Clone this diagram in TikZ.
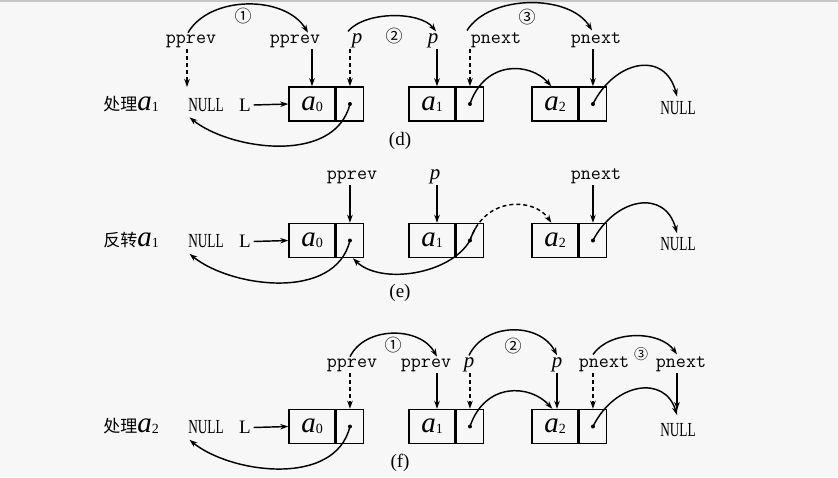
\documentclass[tikz,border=0pt]{standalone}
\usepackage{fontspec}
\setmainfont{Liberation Serif}
\newfontfamily\cjkf{Noto Sans CJK SC}
\usetikzlibrary{arrows.meta}
\newcommand\va[1]{{\fontsize{29}{29}\selectfont\itshape a}\raisebox{-1pt}{\fontsize{14}{14}\selectfont #1}}
\newcommand\nulltxt{\fontsize{19}{19}\selectfont\scalebox{0.7}[1.05]{NULL}}
\tikzset{
  datac/.style={draw,rectangle,minimum width=46pt,minimum height=34pt,inner sep=0pt},
  ptrc/.style={draw,rectangle,minimum width=27pt,minimum height=34pt,inner sep=0pt},
  lbl/.style={font=\ttfamily\fontsize{19.5}{19.5}\selectfont,inner sep=1pt,anchor=base},
  plbl/.style={font=\fontsize{21}{21}\selectfont\itshape,inner sep=1pt,anchor=base},
  circ/.style={font=\cjkf\fontsize{17}{17}\selectfont,inner sep=0pt},
  ptr/.style={-{Stealth[length=8pt,width=5.5pt]}},
  dptr/.style={ptr,dash pattern=on 4pt off 3pt},
  nul/.style={inner sep=0pt},
  captxt/.style={font=\fontsize{19}{19}\selectfont,inner sep=0pt},
  lefttxt/.style={inner sep=0pt},
}
\newcommand\mkrow[4]{%
  \node[datac] (d0#1) at (312,#2) {\va{0}};
  \node[ptrc,anchor=west] (p0#1) at (d0#1.east) {};
  \node[datac] (d1#1) at (432,#2) {\va{1}};
  \node[ptrc,anchor=west] (p1#1) at (d1#1.east) {};
  \node[datac] (d2#1) at (555,#2) {\va{2}};
  \node[ptrc,anchor=west] (p2#1) at (d2#1.east) {};
  \fill (p0#1.center) circle (2pt) (p1#1.center) circle (2pt) (p2#1.center) circle (2pt);
  \node[nul] (nl#1) at (206,#2+1) {\nulltxt};
  \node[nul] (nr#1) at (678,#2+4) {\nulltxt};
  \node[inner sep=0pt] (L#1) at (245,#2+1) {\fontsize{19}{19}\selectfont L};
  \draw[ptr] ([xshift=2pt]L#1.east) -- (d0#1.west);
  \node[lefttxt] (lt#1) at (131,#2) {{\cjkf\fontsize{17}{17}\selectfont #3}\va{#4}};
}
\begin{document}
\begin{tikzpicture}[x=1pt,y=-1pt,line width=1.45pt]
\fill[white!97!black] (0,0) rectangle (838,477);
\fill[black!22] (0,0) rectangle (838,2);
\useasboundingbox (0,0) rectangle (838,477);

% ---------------- (d) ----------------
\mkrow{d}{104}{处理}{1}
\node[lbl] (ppAd) at (191,43) {pprev};
\node[lbl] (ppBd) at (295,43) {pprev};
\node[plbl] (pAd) at (357,43) {p};
\node[plbl] (pBd) at (433,43) {p};
\node[lbl] (pnAd) at (496,43) {pnext};
\node[lbl] (pnBd) at (596,43) {pnext};
\node[circ] (c1d) at (243,16) {①};
\node[circ] (c2d) at (394,36) {②};
\node[circ] (c3d) at (527,17) {③};
\coordinate (ndd) at (187,87);
\coordinate (a1d) at ([xshift=5pt]d1d.north);
\draw[dptr] (ppAd.south -| ndd) -- (ndd);
\draw[ptr] (ppBd.south -| d0d.north) -- (d0d.north);
\draw[dptr] (pAd.south -| p0d.north) -- (p0d.north);
\draw[ptr] (pBd.south -| a1d) -- (a1d);
\draw[dptr] (pnAd.south -| p1d.north) -- (p1d.north);
\draw[ptr] (pnBd.south -| p2d.north) -- (p2d.north);
\draw[ptr] ([xshift=-3pt]ppAd.north) .. controls (210,-5) and (285,-5) .. ([xshift=13pt]ppBd.north);
\draw[ptr] ([xshift=-9pt]pAd.north) .. controls (365,11) and (420,11) .. ([xshift=3pt]pBd.north);
\draw[ptr] ([xshift=-29pt]pnAd.north) .. controls (490,-6) and (570,-6) .. ([xshift=-4pt]pnBd.north);
\draw[ptr] (p0d.center) .. controls (335,165) and (230,150) .. ([shift={(2,5)}]nld.south west);
\draw[ptr] (p1d.center) .. controls (485,60) and (530,62) .. ([xshift=20pt]d2d.north west);
\draw[ptr] (p2d.center) .. controls (615,60) and (665,50) .. ([shift={(-1,-4)}]nrd.north);
\node[captxt] (capd) at (400,141) {(d)};

% ---------------- (e) ----------------
\mkrow{e}{240.5}{反转}{1}
\node[lbl] (ppe) at (352,179) {pprev};
\node[plbl] (pe) at (435,179) {p};
\node[lbl] (pne) at (596,179) {pnext};
\coordinate (a1e) at ([xshift=5pt]d1e.north);
\draw[ptr] (ppe.south -| p0e.north) -- (p0e.north);
\draw[ptr] (pe.south -| a1e) -- (a1e);
\draw[ptr] (pne.south -| p2e.north) -- (p2e.north);
\draw[ptr] (p0e.center) .. controls (335,302) and (230,287) .. ([shift={(2,5)}]nle.south west);
\draw[ptr] (p1e.center) .. controls (450,275) and (380,285) .. ([xshift=3pt]p0e.south);
\draw[dptr] (p1e.center) .. controls (485,195) and (535,198) .. ([xshift=20pt]d2e.north west);
\draw[dash pattern=on 14pt off 1000pt] (p1e.center) .. controls (485,195) and (535,198) .. ([xshift=20pt]d2e.north west);
\draw[ptr] (p2e.center) .. controls (615,198) and (665,188) .. ([shift={(-1,-4)}]nre.north);
\node[captxt] (cape) at (400,293) {(e)};

% ---------------- (f) ----------------
\mkrow{f}{426.5}{处理}{2}
\node[lbl] (ppAf) at (352,367) {pprev};
\node[lbl] (ppBf) at (426,367) {pprev};
\node[plbl] (pAf) at (469,367) {p};
\node[plbl] (pBf) at (557,367) {p};
\node[lbl] (pnAf) at (604,367) {pnext};
\node[lbl] (pnBf) at (681,367) {pnext};
\node[circ] (c1f) at (393,345) {①};
\node[circ] (c2f) at (513,346) {②};
\node[circ,font=\cjkf\fontsize{14}{14}\selectfont] (c3f) at (641,354) {③};
\coordinate (a1f) at ([xshift=5pt]d1f.north);
\coordinate (a2f) at ([xshift=2pt]d2f.north);
\coordinate (tf) at (677,410);
\coordinate (tf2) at (677,415);
\draw[dptr] (ppAf.south -| p0f.north) -- (p0f.north);
\draw[ptr] (ppBf.south -| a1f) -- (a1f);
\draw[dptr] (pAf.south -| p1f.north) -- (p1f.north);
\draw[ptr] (pBf.south -| a2f) -- (a2f);
\draw[dptr] (pnAf.south -| p2f.north) -- (p2f.north);
\draw[ptr] (pnBf.south -| tf) -- (tf);
\draw[ptr] ([xshift=-2pt]ppAf.north) .. controls (365,326) and (420,326) .. ([xshift=11pt]ppBf.north);
\draw[ptr] (pAf.north) .. controls (485,322) and (540,322) .. (pBf.north);
\draw[ptr] ([xshift=-11pt]pnAf.north) .. controls (610,330) and (660,330) .. ([xshift=-4pt]pnBf.north);
\draw[ptr] (p0f.center) .. controls (335,488) and (230,473) .. ([shift={(2,5)}]nlf.south west);
\draw[ptr] (p1f.center) .. controls (485,382) and (530,384) .. ([xshift=21pt]d2f.north west);
\draw[ptr] (p2f.center) .. controls (615,382) and (665,375) .. (tf2);
\node[captxt] (capf) at (400,463) {(f)};
\end{tikzpicture}
\end{document}
